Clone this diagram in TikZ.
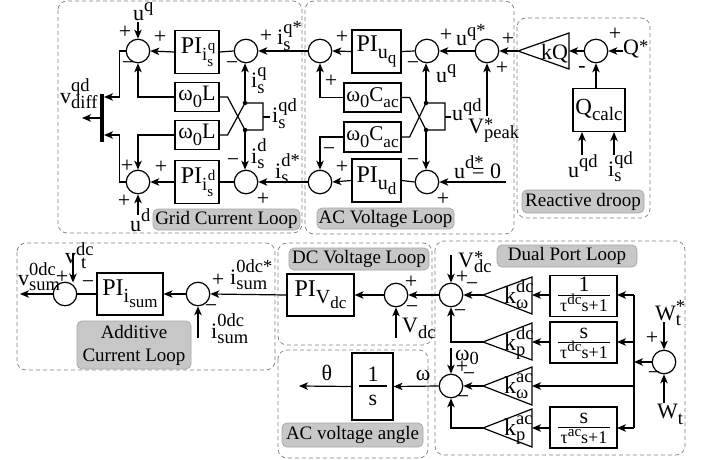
\documentclass[tikz,border=0pt]{standalone}
\usepackage{fontspec}
\setmainfont{Liberation Serif}
\usetikzlibrary{arrows.meta}
\newcommand\scz{\fontsize{18.5}{18.5}\selectfont}
\newcommand\sczz{\fontsize{15}{15}\selectfont}
\newcommand\SSr[4]{#2{\scz\sbox0{#3}\sbox2{#4}\rlap{\raisebox{#1}{\usebox0}}\rlap{\raisebox{-.3em}{\usebox2}}\ifdim\wd0>\wd2 \hskip\wd0\else\hskip\wd2\fi}}
\newcommand\SSc[3]{\SSr{.62em}{#1}{#2}{#3}}
\newcommand\SSk[3]{\SSr{.55em}{{\fontsize{24}{24}\selectfont #1}}{#2}{#3}}
\newcommand\Sb[2]{#1\raisebox{-.3em}{\scz #2}}
\newcommand\Sp[2]{#1\raisebox{.42em}{\scz #2}}
\newcommand\PIs[1]{PI\raisebox{-.3em}{\scz i\rlap{\raisebox{.55em}{\sczz\hskip.5pt #1}}\raisebox{-.3em}{\sczz s}}}
\newcommand\Frac[1]{{\fontsize{18}{18}\selectfont τ\raisebox{.35em}{\fontsize{15}{15}\selectfont #1}s+1}}
\tikzset{
 x=1pt,y=-1pt,
 ln/.style={line width=1.2pt,draw=black},
 ar/.style={ln,-{Stealth[length=9pt,width=7.5pt,inset=2.5pt]}},
 sumn/.style={circle,ln,minimum size=23.5pt,inner sep=0pt,fill=white},
 blk/.style={ln,inner sep=0pt,fill=white,font=\fontsize{24}{24}\selectfont},
 blks/.style={ln,inner sep=0pt,fill=white,font=\fontsize{22}{22}\selectfont},
 dbox/.style={draw=black!50,line width=.7pt,dash pattern=on 4pt off 3pt,rounded corners=9pt},
 tag/.style={draw=black!35,fill=black!22,rounded corners=5pt,line width=.7pt,inner sep=0pt,align=center,font=\fontsize{19}{23}\selectfont},
 t/.style={inner sep=0pt,font=\fontsize{22}{22}\selectfont},
 tl/.style={t,anchor=base west},
 pm/.style={inner sep=0pt,font=\fontsize{22}{22}\selectfont},
 dotn/.style={circle,fill=black,inner sep=0pt,minimum size=4.5pt},
 fb/.style={blks,minimum width=67pt,minimum height=41pt},
}
\begin{document}
\begin{tikzpicture}
\useasboundingbox (0,0) rectangle (705,460);
% dashed regions
\draw[dbox] (58,1) rectangle (302,233);
\draw[dbox] (305,1) rectangle (514,234);
\draw[dbox] (517,18) rectangle (650,218);
\draw[dbox] (17,243) rectangle (275,370);
\draw[dbox] (278,243) rectangle (432,345);
\draw[dbox] (278,350) rectangle (428,458);
\draw[dbox] (435,241) rectangle (685,455);
% grid current loop
\node[sumn] (s1) at (138,51) {};
\node[sumn] (s2) at (246,51) {};
\node[sumn] (s3) at (138,182) {};
\node[sumn] (s4) at (246,182) {};
\node[blk,minimum width=44pt,minimum height=43pt] (pi1) at (197,52) {\PIs{q}};
\node[blk,minimum width=44pt,minimum height=43pt] (pi2) at (197,182) {\PIs{d}};
\node[blks,minimum width=44pt,minimum height=29pt] (w1) at (197,97) {ω\Sb{}{0}L};
\node[blks,minimum width=44pt,minimum height=29pt] (w2) at (197,135) {ω\Sb{}{0}L};
\coordinate (bart) at (102,94); \coordinate (barb) at (102,142);
\draw[line width=3.2pt] (bart) -- (barb);
\coordinate (barm) at (102,118); \coordinate (vout) at (82,118);
\coordinate (barq) at (104,97); \coordinate (bard) at (104,135);
\draw[ar] (barm) -- (vout);
\draw[ar] (s1.west) -- ++(-6,0) |- (barq);
\draw[ar] (s3.west) -- ++(-6,0) |- (bard);
\draw[ar] (w1.west) -| (s1.south);
\draw[ar] (w2.west) -| (s3.north);
\draw[ar] (pi1.west) -- (s1.east);
\draw[ar] (pi2.west) -- (s3.east);
\draw[ln] (s2.west) -- (pi1.east);
\draw[ln] (s4.west) -- (pi2.east);
\node[dotn] (d1) at (245,103) {};
\node[dotn] (d2) at (245,130) {};
\draw[ar] (d1.center) -- (d1.center |- s2.south);
\draw[ar] (d2.center) -- (d2.center |- s4.north);
\draw[ln] (w1.east) -- ++(8,0) -- (d2.center) -- ++(18,0) coordinate (b2) -- (b2 |- d1) -- (d1.center);
\draw[ln] (w2.east) -- ++(8,0) -- (d1.center);
\coordinate (is) at (263,117); \coordinate (is2) at (270,117);
\draw[ln] (is) -- (is2);
\coordinate (ua) at (138,22); \coordinate (ub) at (138,215);
\draw[ar] (ua) -- (s1.north);
\draw[ar] (ub) -- (s3.south);
% ac voltage loop
\node[sumn] (s5) at (320,51) {};
\node[sumn] (s6) at (427,51) {};
\node[sumn] (s7) at (487,51) {};
\node[sumn] (s8) at (320,182) {};
\node[sumn] (s9) at (427,182) {};
\node[blk,minimum width=49pt,minimum height=43pt] (pi3) at (376.5,51.5) {PI\raisebox{-.28em}{\fontsize{20}{20}\selectfont u\raisebox{-.25em}{\fontsize{17}{17}\selectfont q}}};
\node[blk,minimum width=49pt,minimum height=43pt] (pi4) at (376.5,180.5) {PI\raisebox{-.28em}{\fontsize{20}{20}\selectfont u\raisebox{-.25em}{\fontsize{17}{17}\selectfont d}}};
\node[blks,minimum width=57pt,minimum height=29pt,font=\fontsize{21}{21}\selectfont] (w3) at (372.5,97.5) {ω\Sb{}{0}C\raisebox{-.3em}{\fontsize{17}{17}\selectfont ac}};
\node[blks,minimum width=57pt,minimum height=30pt,font=\fontsize{21}{21}\selectfont] (w4) at (372.5,137) {ω\Sb{}{0}C\raisebox{-.3em}{\fontsize{17}{17}\selectfont ac}};
\draw[ar] (s5.west) -- (s2.east);
\draw[ar] (s8.west) -- (s4.east);
\draw[ar] (pi3.west) -- (s5.east);
\draw[ar] (pi4.west) -- (s8.east);
\draw[ln] (s6.west) -- (pi3.east);
\draw[ln] (s9.west) -- (pi4.east);
\draw[ar] (w3.west) -| (s5.south);
\draw[ar] (w4.west) -| (s8.north);
\node[dotn] (d3) at (426,103) {};
\node[dotn] (d4) at (426,130) {};
\draw[ar] (d3.center) -- (d3.center |- s6.south);
\draw[ar] (d4.center) -- (d4.center |- s9.north);
\draw[ln] (w3.east) -- ++(8,0) -- (d4.center) -- ++(19,0) coordinate (b4) -- (b4 |- d3) -- (d3.center);
\draw[ln] (w4.east) -- ++(8,0) -- (d3.center);
\coordinate (us) at (445,117); \coordinate (us2) at (451,117);
\draw[ln] (us) -- (us2);
\draw[ar] (s7.west) -- (s6.east);
\coordinate (vp) at (487,116);
\draw[ar] (vp) -- (s7.south);
\coordinate (ud0) at (506,182);
\draw[ar] (ud0) -- (s9.east);
% reactive droop
\coordinate (k) at (518,51);
\draw[ln] (k) -- (569,33) -- (569,69) -- cycle;
\coordinate (kr) at (569,51);
\node[sumn] (s10) at (596,51) {};
\node[blks,minimum width=52pt,minimum height=43pt,font=\fontsize{23}{23}\selectfont] (q) at (599,110) {Q\raisebox{-.28em}{\fontsize{19}{19}\selectfont calc}};
\coordinate (qs) at (623,51);
\draw[ar] (qs) -- (s10.east);
\draw[ar] (s10.west) -- (kr);
\draw[ar] (k) -- (s7.east);
\draw[ar] (q.north -| s10) -- (s10.south);
\coordinate (qa) at (582,155); \coordinate (qb) at (614,155);
\draw[ar] (qa) -- (qa |- q.south);
\draw[ar] (qb) -- (qb |- q.south);
% additive + dc
\node[sumn] (s11) at (65,294) {};
\node[sumn] (s12) at (198,294) {};
\node[sumn] (s13) at (396,295) {};
\node[blk,minimum width=66pt,minimum height=42pt] (pi5) at (130,294) {PI\raisebox{-.28em}{\fontsize{20}{20}\selectfont i\raisebox{-.25em}{\fontsize{17}{17}\selectfont sum}}};
\node[blk,minimum width=67pt,minimum height=42pt] (pi6) at (320.5,295) {PI\raisebox{-.28em}{\fontsize{20}{20}\selectfont V\raisebox{-.25em}{\fontsize{17}{17}\selectfont dc}}};
\coordinate (vo) at (20,294); \coordinate (vt) at (73,253); \coordinate (vt2) at (73,282.5);
\coordinate (i0) at (198,338); \coordinate (vd) at (396,338);
\draw[ar] (s11.west) -- (vo);
\draw[ln] (pi5.west) -- (s11.east);
\draw[ar] (s12.west) -- (pi5.east);
\draw[ar] (pi6.west) -- (s12.east);
\draw[ar] (s13.west) -- (pi6.east);
\draw[ar] (vt) -- (vt2);
\draw[ar] (i0) -- (s12.south);
\draw[ar] (vd) -- (s13.south);
% ac angle
\node[blk,minimum width=41pt,minimum height=67pt] (int) at (372.5,386.5) {};
\coordinate (f1) at (359,386); \coordinate (f2) at (387,386);
\draw[ln] (f1) -- (f2);
\node[t,anchor=base] (one) at (373,381) {1};
\node[t,anchor=base] (ess) at (373,405) {s};
\coordinate (th) at (299,386);
\draw[ar] (int.west) -- (th);
% dual port
\node[sumn] (s14) at (451,295) {};
\node[sumn] (s15) at (451,386) {};
\node[sumn] (s16) at (664,362) {};
\draw[ar] (s14.west) -- (s13.east);
\draw[ar] (s15.west) -- (int.east);
\coordinate (t1) at (483,295); \coordinate (t1r) at (532,295);
\coordinate (t2) at (483,342); \coordinate (t2r) at (532,342);
\coordinate (t3) at (483,386); \coordinate (t3r) at (532,386);
\coordinate (t4) at (483,428); \coordinate (t4r) at (532,428);
\draw[ln] (t1) -- (532,277) -- (532,314) -- cycle;
\draw[ln] (t2) -- (532,323) -- (532,360) -- cycle;
\draw[ln] (t3) -- (532,367) -- (532,405) -- cycle;
\draw[ln] (t4) -- (532,409) -- (532,447) -- cycle;
\node[fb] (b1) at (583.5,296) {};
\node[fb] (b2x) at (583.5,342.5) {};
\node[fb] (b3x) at (583.5,427.5) {};
\coordinate (l1a) at (558,295); \coordinate (l1b) at (610,295);
\coordinate (l2a) at (558,342); \coordinate (l2b) at (610,342);
\coordinate (l3a) at (558,427); \coordinate (l3b) at (610,427);
\draw[line width=.9pt] (l1a) -- (l1b);
\draw[line width=.9pt] (l2a) -- (l2b);
\draw[line width=.9pt] (l3a) -- (l3b);
\node[t,anchor=base] (fa1) at (584,291) {1};
\node[t,anchor=base] (fa2) at (584,311) {\Frac{dc}};
\node[t,anchor=base] (fb1) at (584,338) {s};
\node[t,anchor=base] (fb2) at (584,358) {\Frac{dc}};
\node[t,anchor=base] (fc1) at (584,423) {s};
\node[t,anchor=base] (fc2) at (584,443) {\Frac{ac}};
\coordinate (bus) at (634,362); \coordinate (bt) at (634,295); \coordinate (bb) at (634,428);
\coordinate (b1r) at (617,295); \coordinate (b2r) at (617,342); \coordinate (b3r) at (617,428);
\draw[ln] (bt) -- (bb);
\draw[ar] (bt) -- (b1r);
\draw[ar] (bus |- b2r) -- (b2r);
\draw[ar] (bb) -- (b3r);
\draw[ar] (bus |- t3r) -- (t3r);
\draw[ar] (s16.west) -- (bus);
\draw[ar] (b1r -| b1.west) -- (t1r);
\draw[ar] (b2r -| b2x.west) -- (t2r);
\draw[ar] (b3r -| b3x.west) -- (t4r);
\draw[ar] (t1) -- (s14.east);
\draw[ar] (t3) -- (s15.east);
\draw[ar] (t2) -| (s14.south);
\draw[ar] (t4) -| (s15.south);
\coordinate (vs) at (451,255); \coordinate (w0) at (451,348);
\coordinate (wa) at (664,322); \coordinate (wb) at (664,403);
\draw[ar] (vs) -- (s14.north);
\draw[ar] (w0) -- (s15.north);
\draw[ar] (wa) -- (s16.north);
\draw[ar] (wb) -- (s16.south);
% tags
\node[tag,minimum width=147pt,minimum height=21pt] (g1) at (226.5,219.5) {Grid Current Loop};
\node[tag,minimum width=137pt,minimum height=21pt] (g2) at (385.5,218.5) {AC Voltage Loop};
\node[tag,minimum width=122pt,minimum height=23pt] (g3) at (583,201.5) {Reactive droop};
\node[tag,minimum width=114pt,minimum height=48pt] (g4) at (134,345) {Additive\\Current Loop};
\node[tag,minimum width=140pt,minimum height=22pt] (g5) at (359,259) {DC Voltage Loop};
\node[tag,minimum width=141pt,minimum height=24pt] (g6) at (352.5,435) {AC voltage angle};
\node[tag,minimum width=140pt,minimum height=22pt] (g7) at (567,256) {Dual Port Loop};
% signal labels
\node[tl] (l1) at (133,21) {\Sp{u}{q}};
\node[tl] (l2) at (130,231) {\Sp{u}{d}};
\node[tl] (l3) at (60,103) {\SSc{v}{qd}{diff}};
\node[tl] (l4) at (277,45) {\SSc{i}{q*}{s}};
\node[tl] (l5) at (275,178) {\SSc{i}{d*}{s}};
\node[tl] (l6) at (251,88) {\SSc{i}{q}{s}};
\node[tl] (l7) at (251,163) {\SSc{i}{d}{s}};
\node[tl] (l8) at (272,123) {\SSc{i}{qd}{s}};
\node[tl] (l9) at (436,83) {\Sp{u}{q}};
\node[tl] (l10) at (456,46) {\Sp{u}{q*}};
\node[tl] (l11) at (452,121) {\Sp{u}{qd}};
\node[tl] (l12) at (468,133) {\SSr{.15em}{V}{*}{peak}};
\node[tl] (l13) at (454,178) {\Sp{u}{d*}};
\node[tl] (l14) at (472,178) {= 0};
\node[tl] (l15) at (623,55) {Q\raisebox{.1em}{\scz *}};
\node[tl] (l16) at (568,177) {\Sp{u}{qd}};
\node[tl] (l17) at (608,176) {\SSc{i}{qd}{s}};
\node[tl] (l18) at (541,60) {kQ};
\node[tl] (l19) at (18,285) {\SSr{.5em}{v}{0dc}{sum}};
\node[tl] (l20) at (65,263) {\SSr{.38em}{v}{dc}{\hskip 5pt t}};
\node[tl] (l21) at (230,284) {\SSc{i}{0dc*}{sum}};
\node[tl] (l22) at (211,338) {\SSc{i}{0dc}{sum}};
\node[tl] (l23) at (402,332) {\Sb{V}{dc}};
\node[t,anchor=base] (l24) at (327,380) {θ};
\node[t,anchor=base] (l25) at (423,380) {ω};
\node[tl] (l26) at (458,267) {\SSr{.2em}{V}{*}{dc}};
\node[tl] (l27) at (455,360) {ω\raisebox{-.2em}{\scz 0}};
\node[tl] (l28) at (655,320) {\SSr{.4em}{W}{*}{t}};
\node[tl] (l29) at (657,418) {\Sb{W}{t}};
\node[tl] (k1) at (504,303) {\SSk{k}{dc}{ω}};
\node[tl] (k2) at (504,350) {\SSk{k}{dc}{p}};
\node[tl] (k3) at (504,393) {\SSk{k}{ac}{ω}};
\node[tl] (k4) at (504,435) {\SSk{k}{ac}{p}};
% signs
\foreach \x/\y/\s in {125/32/+,160/37/+,128/66/−,266/36/+,232/66/−,127/166/+,161/167/+,124/201/+,233/163/−,263/199/+,
 342/37/+,331/81/+,329/152/−,342/167/+,446/35/+,413/66/−,413/163/−,443/199/+,508/39/+,502/68/+,
 615/34/+,582/69/-,
 62/277/+,88/285/−,218/280/+,211/309/−,411/282/+,412/310/−,
 462/277/+,472/287/−,460/314/−,462/367/+,469/377/−,463/400/−,652/338/+,654/376/−}{
 \node[pm] at (\x,\y) {\s};
}
\end{tikzpicture}
\end{document}
